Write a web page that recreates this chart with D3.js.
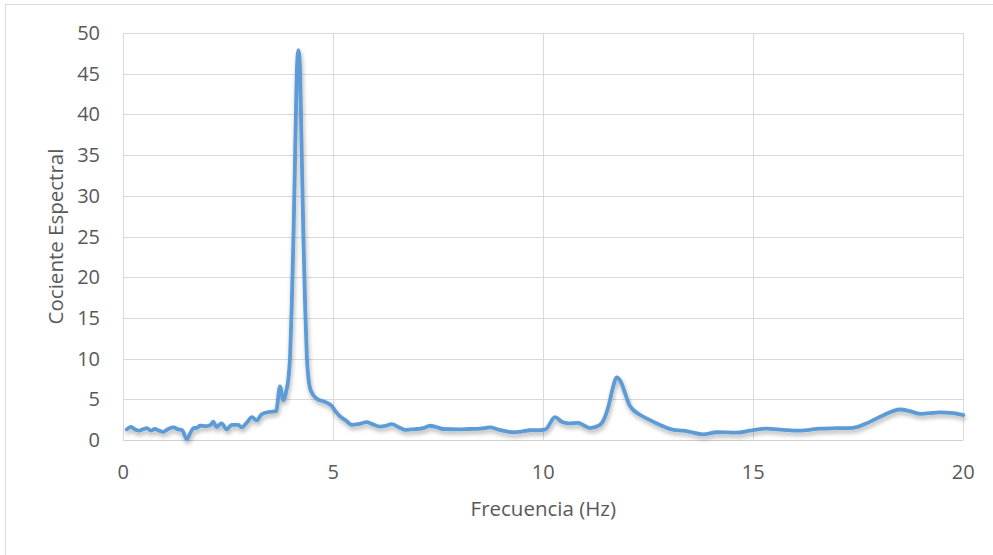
<!DOCTYPE html>
<html>
<head>
<meta charset="utf-8">
<script src="https://cdn.jsdelivr.net/npm/d3@7"></script>
<style>
  body { margin: 0; background: #fff; }
  text { font-family: "Open Sans", "Liberation Sans", sans-serif; fill: #595959; }
</style>
</head>
<body>
<script>
// data
var freqHz = [0.08,0.18,0.28,0.36,0.46,0.56,0.66,0.75,0.85,0.95,1.07,1.19,1.31,1.4,1.51,1.6,1.67,1.75,1.83,1.98,2.08,2.14,2.22,2.34,2.46,2.58,2.74,2.82,2.95,3.06,3.18,3.29,3.49,3.64,3.73,3.81,3.88,3.93,3.97,4.01,4.05,4.09,4.13,4.17,4.21,4.25,4.29,4.33,4.37,4.41,4.47,4.6,4.84,4.96,5.04,5.16,5.3,5.44,5.6,5.8,5.95,6.11,6.25,6.39,6.55,6.71,6.85,6.99,7.15,7.3,7.45,7.62,8.0,8.25,8.5,8.73,8.95,9.13,9.29,9.5,9.68,9.92,10.05,10.28,10.45,10.6,10.83,11.0,11.11,11.35,11.45,11.55,11.65,11.75,11.85,11.95,12.05,12.14,12.3,12.46,12.78,13.1,13.33,13.49,13.81,14.13,14.6,14.92,15.32,15.71,16.11,16.59,17.0,17.38,17.7,18.1,18.49,18.73,18.97,19.45,19.76,20.0];
var cociente = [1.3,1.6,1.3,1.15,1.3,1.45,1.15,1.35,1.15,1.0,1.35,1.55,1.3,1.2,0.1,0.9,1.45,1.5,1.75,1.7,1.85,2.25,1.6,2.05,1.3,1.85,1.85,1.55,2.2,2.8,2.4,3.15,3.45,3.55,6.6,4.9,6.0,7.5,10.2,16.4,24.6,34.8,45,47.9,45,34.8,24.6,16.4,10.2,7.5,6.0,5.1,4.6,4.2,3.6,2.9,2.4,1.85,1.95,2.2,1.9,1.65,1.75,1.95,1.6,1.25,1.3,1.35,1.45,1.75,1.6,1.35,1.3,1.35,1.4,1.55,1.25,1.05,0.95,1.05,1.2,1.2,1.3,2.8,2.2,2.05,2.1,1.7,1.45,1.85,2.6,4.1,6.3,7.7,7.1,5.7,4.3,3.7,3.1,2.65,1.85,1.25,1.15,1.0,0.7,0.95,0.9,1.15,1.4,1.25,1.15,1.4,1.45,1.5,2.05,3.05,3.75,3.55,3.2,3.4,3.3,3.05];
var xTicks = [0, 5, 10, 15, 20];
var yTicks = [0, 5, 10, 15, 20, 25, 30, 35, 40, 45, 50];

var width = 993, height = 555;
var svg = d3.select("body").append("svg")
	.attr("width", width)
	.attr("height", height);

var defs = svg.append("defs");
var shadow = defs.append("filter").attr("id", "shadow")
	.attr("x", "-10%").attr("y", "-10%").attr("width", "120%").attr("height", "120%");
shadow.append("feDropShadow")
	.attr("dx", 1).attr("dy", 3).attr("stdDeviation", 2)
	.attr("flood-color", "#000").attr("flood-opacity", 0.3);

// chart frame (only top/left visible)
svg.append("rect")
	.attr("x", 5.5).attr("y", 4.5)
	.attr("width", 1100).attr("height", 700)
	.attr("fill", "none").attr("stroke", "#d9d9d9");

var x = d3.scaleLinear().domain([0, 20]).range([123.3, 963.3]);
var y = d3.scaleLinear().domain([0, 50]).range([440, 33]);

// gridlines
svg.append("g").selectAll("line").data(yTicks.slice(1)).enter().append("line")
	.attr("x1", x(0)).attr("x2", x(20))
	.attr("y1", function(d) { return Math.round(y(d)) + 0.5; })
	.attr("y2", function(d) { return Math.round(y(d)) + 0.5; })
	.attr("stroke", "#d9d9d9");
svg.append("g").selectAll("line").data(xTicks).enter().append("line")
	.attr("x1", function(d) { return Math.round(x(d)) + 0.5; })
	.attr("x2", function(d) { return Math.round(x(d)) + 0.5; })
	.attr("y1", y(50)).attr("y2", y(0))
	.attr("stroke", "#d9d9d9");
// x axis line
svg.append("line")
	.attr("x1", x(0)).attr("x2", x(20))
	.attr("y1", Math.round(y(0)) + 0.5).attr("y2", Math.round(y(0)) + 0.5)
	.attr("stroke", "#d0d0d0");

// tick labels
svg.append("g").selectAll("text").data(yTicks).enter().append("text")
	.attr("x", 100)
	.attr("y", function(d) { return y(d) + 7; })
	.attr("text-anchor", "end")
	.style("font-size", "20px")
	.text(function(d) { return d; });
svg.append("g").selectAll("text").data(xTicks).enter().append("text")
	.attr("x", function(d) { return x(d); })
	.attr("y", 479)
	.attr("text-anchor", "middle")
	.style("font-size", "20px")
	.text(function(d) { return d; });

// axis titles
svg.append("text")
	.attr("x", x(10)).attr("y", 516)
	.attr("text-anchor", "middle")
	.style("font-size", "20.5px")
	.text("Frecuencia (Hz)");
svg.append("text")
	.attr("transform", "translate(63," + y(25) + ") rotate(-90)")
	.attr("text-anchor", "middle")
	.style("font-size", "20.5px")
	.text("Cociente Espectral");

// series
var data = freqHz.map(function(f, i) { return { f: f, v: cociente[i] }; });
var line = d3.line()
	.x(function(d) { return x(d.f); })
	.y(function(d) { return y(d.v); })
	.curve(d3.curveMonotoneX);
svg.append("path")
	.datum(data)
	.attr("d", line)
	.attr("fill", "none")
	.attr("stroke", "#5b9bd5")
	.attr("stroke-width", 3.8)
	.attr("stroke-linejoin", "round")
	.attr("stroke-linecap", "round")
	.attr("filter", "url(#shadow)");
</script>
</body>
</html>
